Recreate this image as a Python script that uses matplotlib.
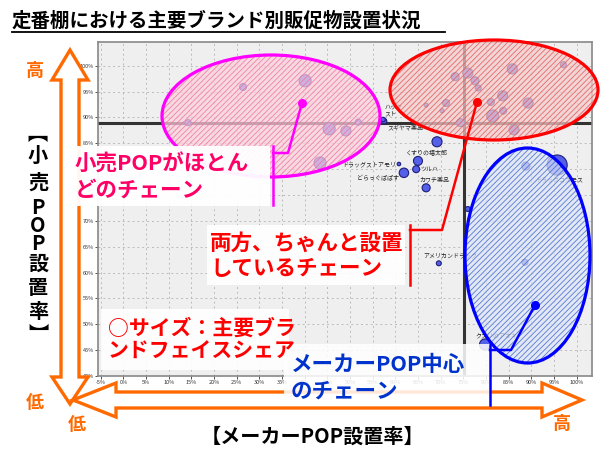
import matplotlib
matplotlib.use('Agg')
import matplotlib.pyplot as plt
from matplotlib.patches import Ellipse, Polygon, Rectangle

plt.rcParams['font.family'] = ['Noto Sans CJK JP', 'DejaVu Sans']
plt.rcParams['hatch.linewidth'] = 0.6

# チェーン別データ: メーカーPOP設置率(%), 小売POP設置率(%), 主要ブランドフェイスシェア
chain_names = ['スギヤマ薬品', 'ハック\nスト', '', 'くすりの福太郎', 'ドラッグストアモリ',
               'ツルハ', 'どらっぐぱぱす', 'カワチ薬品', '', 'アメリカンドラッグ',
               'クスリのアオキ', '', '', 'ドラッグコスモス', '']
maker_pop = [57.5, 57.3, 69.2, 65.0, 60.8,
             64.6, 61.9, 66.8, 76.0, 69.6,
             79.8, 88.6, 88.8, 95.7, 74.4,
             26.4, 40.1, 14.3, 45.4, 49.1, 43.4, 51.8,
             73.2, 76.0, 77.6, 78.3, 85.8, 97.1, 71.2, 70.3, 66.8, 81.1, 83.7, 89.3, 81.5, 83.8, 86.2]
retail_pop = [89.3, 89.6, 85.3, 81.6, 81.0,
              80.0, 79.3, 76.4, 72.3, 61.8,
              46.1, 62.0, 80.6, 80.8, 89.0,
              95.9, 97.1, 89.0, 87.8, 87.4, 81.2, 89.1,
              97.9, 98.6, 97.1, 95.7, 99.4, 100.2, 92.8, 91.3, 92.4, 93.0, 94.2, 92.8, 90.3, 91.3, 87.6]
face_share = [8, 5, 25, 20, 3,
              12, 22, 16, 6, 6,
              30, 9, 16, 100, 16,
              12, 36, 9, 36, 25, 36, 9,
              16, 25, 16, 9, 25, 9, 12, 4, 4, 12, 25, 25, 36, 12, 25]
chain_names = chain_names + [''] * (len(maker_pop) - len(chain_names))

# 平均線
maker_avg = 75.1
retail_avg = 88.9

x_ticks = list(range(-5, 101, 5))
y_ticks = list(range(40, 101, 5))

# ラベル位置 (offset pixels, ha, va)
label_pos = {
    'スギヤマ薬品': (3, -6, 'left', 'center'),
    'ハック\nスト': (1, 3, 'left', 'bottom'),
    'くすりの福太郎': (9, 9, 'center', 'center'),
    'ドラッグストアモリ': (-3, 0, 'right', 'center'),
    'ツルハ': (4, 0, 'left', 'center'),
    'どらっぐぱぱす': (-5, -5, 'right', 'center'),
    'カワチ薬品': (8, 8, 'center', 'center'),
    'アメリカンドラッグ': (-16, 8, 'left', 'center'),
    'クスリのアオキ': (-10, 9, 'left', 'center'),
    'ドラッグコスモス': (26, -14, 'right', 'center'),
}

W, H = 600, 450
fig = plt.figure(figsize=(6, 4.5), dpi=100)
ax = fig.add_axes([98 / W, 1 - 376 / H, (592 - 98) / W, (376 - 42) / H])
ax.set_facecolor('#EFEFEF')
ax.set_xlim(-5.6, 103.4)
ax.set_ylim(40, 104.6)
ax.set_xticks(x_ticks)
ax.set_xticklabels([f'{v}%' for v in x_ticks])
ax.set_yticks(y_ticks)
ax.set_yticklabels([f'{v}%' for v in y_ticks])
ax.tick_params(labelsize=4, length=2, width=0.6, pad=1, colors='#333333')
ax.grid(True, linestyle=(0, (2, 3)), color='#BBBBBB', linewidth=0.7)
ax.set_axisbelow(True)
for sp in ax.spines.values():
    sp.set_color('#888888')
    sp.set_linewidth(1.2)

ax.axhline(retail_avg, color='#333333', lw=2.2, zorder=2)
ax.axvline(maker_avg, color='#333333', lw=2.2, zorder=2)

ax.scatter(maker_pop, retail_pop, s=[v * 2.1 for v in face_share],
           c='#5560E8', edgecolors='#1E1E78', linewidths=0.8, zorder=3)
for name, mx, ry in zip(chain_names, maker_pop, retail_pop):
    if not name:
        continue
    dx, dy, ha, va = label_pos[name]
    ax.annotate(name, (mx, ry), xytext=(dx, dy), textcoords='offset pixels',
                ha=ha, va=va, fontsize=4.3, color='#222222', zorder=4,
                linespacing=1.0)

# ---- 注釈レイヤー (ピクセル座標) ----
ov = fig.add_axes([0, 0, 1, 1])
ov.set_zorder(10)
ov.set_xlim(0, W)
ov.set_ylim(H, 0)
ov.axis('off')
ov.patch.set_alpha(0)

groups = [
    ((271, 116), 218, 122, (0.99, 0.82, 0.87, 0.72), (0.94, 0.45, 0.62, 0.85), '#FF00FF'),
    ((494, 90), 208, 100, (0.97, 0.80, 0.80, 0.72), (0.88, 0.35, 0.35, 0.85), '#FF0000'),
    ((527.5, 255.5), 125, 215, (0.87, 0.90, 0.98, 0.72), (0.25, 0.40, 0.80, 0.85), '#0000FF'),
]
for c, w, h, fc, hc, ec in groups:
    ov.add_patch(Ellipse(c, w, h, facecolor=fc, edgecolor=hc, hatch='//////', lw=0))
    ov.add_patch(Ellipse(c, w, h, facecolor='none', edgecolor=ec, lw=2.3))

orange = '#FF6A00'
v_arrow = [(70, 50), (88, 80), (79, 80), (79, 377), (88, 377), (70, 404),
           (52, 377), (61, 377), (61, 80), (52, 80)]
h_arrow = [(73, 400), (116, 383), (116, 392), (542, 392), (542, 383), (582, 400),
           (542, 417), (542, 408), (116, 408), (116, 417)]
for pts in (v_arrow, h_arrow):
    ov.add_patch(Polygon(pts, closed=True, facecolor='none', edgecolor=orange,
                         lw=2.4, joinstyle='miter'))

# テキストボックス
for x0, y0, x1, y1, a in [(72, 146, 270, 206, 0.95), (207, 225, 405, 285, 0.9),
                          (101, 309, 289, 370, 0.9), (284, 344, 490, 403, 0.85)]:
    ov.add_patch(Rectangle((x0, y0), x1 - x0, y1 - y0, facecolor='white',
                           edgecolor='none', alpha=a))

# 引き出し線
callouts = [
    ([(302, 103), (288, 153), (273, 153)], (273, 146, 205), '#FF00FF'),
    ([(477, 102), (442, 230), (410, 230)], (410, 225, 285), '#FF0000'),
    ([(535, 305), (511, 350), (490, 350)], (490, 345, 405), '#0000FF'),
]
for pts, (vx, vy0, vy1), col in callouts:
    ov.plot([p[0] for p in pts], [p[1] for p in pts], color=col, lw=1.8)
    ov.plot([vx, vx], [vy0, vy1], color=col, lw=1.8)
    ov.plot(*pts[0], 'o', color=col, ms=5.5)

bold = dict(fontweight='bold')
ov.text(12, 21, '定番棚における主要ブランド別販促物設置状況', fontsize=14, ha='left',
        va='center', color='black', **bold)
ov.plot([12, 445], [32, 32], color='black', lw=1.3)

ov.text(75, 177, '小売POPがほとん\nどのチェーン', fontsize=15.5, color='#FF0066',
        ha='left', va='center', linespacing=1.25, **bold)
ov.text(210, 256, '両方、ちゃんと設置\nしているチェーン', fontsize=15.5, color='#FF0000',
        ha='left', va='center', linespacing=1.25, **bold)
ov.text(108, 340, '○サイズ：主要ブラ\nンドフェイスシェア', fontsize=15, color='#FF0000',
        ha='left', va='center', linespacing=1.1, **bold)
ov.text(291, 378, 'メーカーPOP中心\nのチェーン', fontsize=15.5, color='#0033CC',
        ha='left', va='center', linespacing=1.3, **bold)

ov.text(35, 70, '高', fontsize=13, color=orange, ha='center', va='center', **bold)
ov.text(35, 403, '低', fontsize=13, color=orange, ha='center', va='center', **bold)
ov.text(77, 425, '低', fontsize=13, color=orange, ha='center', va='center', **bold)
ov.text(562, 423, '高', fontsize=13, color=orange, ha='center', va='center', **bold)

# 縦書きラベル (︻︼ は字形の位置がずれるので y を補正)
v_label = ['︻', '小', '売', 'P', 'O', 'P', '設', '置', '率', '︼']
v_label_y = [133, 155, 182, 207, 226, 244, 263, 288, 312, 334]
for ch, yy in zip(v_label, v_label_y):
    ov.text(38, yy, ch, fontsize=14.5, ha='center', va='center', color='black', **bold)

ov.text(312, 436, '【メーカーPOP設置率】', fontsize=14.5, ha='center', va='center',
        color='black', **bold)

fig.savefig('out.png', dpi=100)
